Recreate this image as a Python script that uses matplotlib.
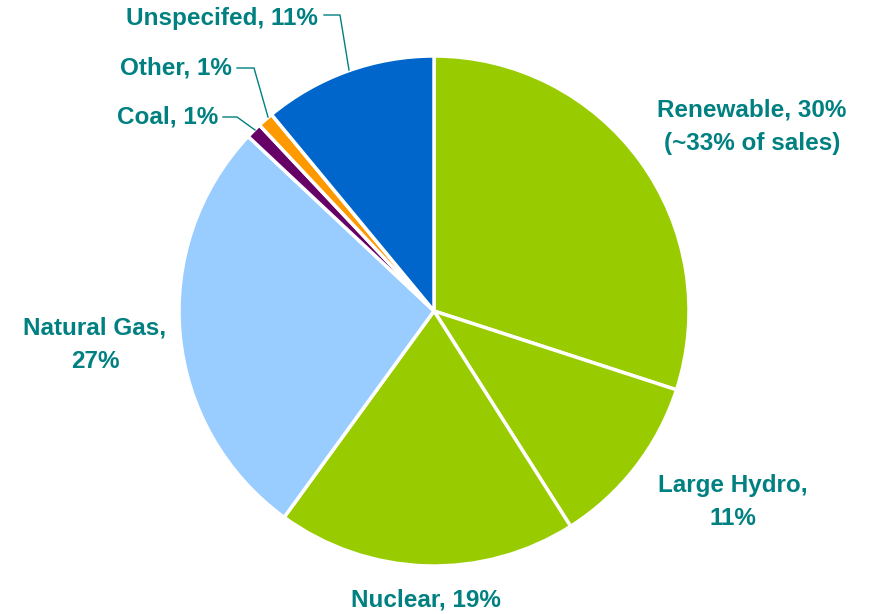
import matplotlib
matplotlib.use("Agg")
import matplotlib.pyplot as plt

# ---------- Data ----------
labels = ["Renewable", "Large Hydro", "Nuclear", "Natural Gas", "Coal", "Other", "Unspecifed"]
shares = [30, 11, 19, 27, 1, 1, 11]
colors = ["#99CC00", "#99CC00", "#99CC00", "#99CCFF", "#660066", "#FF9900", "#0066CC"]

TXT = "#008080"
W, H = 873, 614

fig = plt.figure(figsize=(W / 100, H / 100), dpi=100)
ax = fig.add_axes([0, 0, 1, 1])


def Y(y):
    # pixel row (from top) -> data y
    return H - y


ax.pie(shares, colors=colors, startangle=90, counterclock=False,
       center=(434, Y(311)), radius=255, frame=True,
       wedgeprops=dict(edgecolor="white", linewidth=2.5))
ax.set_xlim(0, W)
ax.set_ylim(0, H)
ax.set_aspect("equal")
ax.axis("off")

font = dict(color=TXT, fontsize=17.5, fontweight="bold", fontfamily="Liberation Sans")
LS = 1.6

# ---------- Labels ----------
ax.text(752, Y(127), f"{labels[0]}, {shares[0]}%\n(~33% of sales)",
        ha="center", va="center", linespacing=LS, **font)
ax.text(733, Y(502), f"{labels[1]},\n{shares[1]}%",
        ha="center", va="center", linespacing=LS, **font)
ax.text(426, Y(600), f"{labels[2]}, {shares[2]}%",
        ha="center", va="center", **font)
ax.text(95, Y(345), f"{labels[3]},\n{shares[3]}%",
        ha="center", va="center", linespacing=LS, **font)
ax.text(218, Y(117), f"{labels[4]}, {shares[4]}%", ha="right", va="center", **font)
ax.text(232, Y(68), f"{labels[5]}, {shares[5]}%", ha="right", va="center", **font)
ax.text(318, Y(18), f"{labels[6]}, {shares[6]}%", ha="right", va="center", **font)

# ---------- Leader lines ----------
leaders = [
    [(223, 117), (237, 117), (255, 130)],
    [(237, 68), (254, 68), (268, 117)],
    [(324, 15), (340, 15), (349, 70)],
]
for pts in leaders:
    ax.plot([p[0] for p in pts], [Y(p[1]) for p in pts], color=TXT, linewidth=1.0)

fig.savefig("out.png", dpi=100)
